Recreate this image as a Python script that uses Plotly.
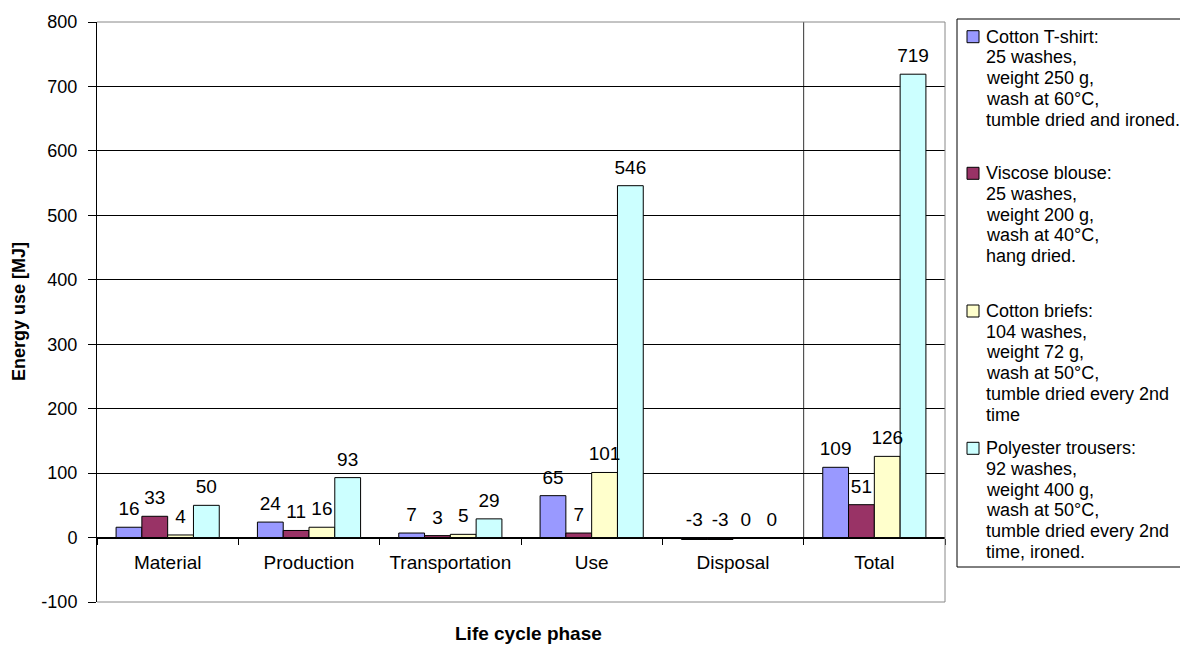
import plotly.graph_objects as go

# Life cycle energy use per garment, MJ
phases = ["Material", "Production", "Transportation", "Use", "Disposal", "Total"]

cotton_tshirt = [16, 24, 7, 65, -3, 109]
viscose_blouse = [33, 11, 3, 7, -3, 51]
cotton_briefs = [4, 16, 5, 101, 0, 126]
polyester_trousers = [50, 93, 29, 546, 0, 719]

series_values = [cotton_tshirt, viscose_blouse, cotton_briefs, polyester_trousers]
series_colors = ["#9999FF", "#993366", "#FFFFCC", "#CCFFFF"]
series_legend = [
    ["Cotton T-shirt:", "25 washes,", "weight 250 g,", "wash at 60\u00b0C,",
     "tumble dried and ironed."],
    ["Viscose blouse:", "25 washes,", "weight 200 g,", "wash at 40\u00b0C,",
     "hang dried."],
    ["Cotton briefs:", "104 washes,", "weight 72 g,", "wash at 50\u00b0C,",
     "tumble dried every 2nd", "time"],
    ["Polyester trousers:", "92 washes,", "weight 400 g,", "wash at 50\u00b0C,",
     "tumble dried every 2nd", "time, ironed."],
]

y_ticks = [-100, 0, 100, 200, 300, 400, 500, 600, 700, 800]
y_title = "Energy use [MJ]"
x_title = "Life cycle phase"

FONT = "Liberation Sans, Arial, sans-serif"
WIDTH, HEIGHT = 1180, 646
L, R, T, B = 97, 945, 22, 602  # plot area in pixels


def px_x(px):
    return (px - L) / (R - L)


def px_y(py):
    return (B - py) / (B - T)


fig = go.Figure()

for idx, (vals, color, desc) in enumerate(zip(series_values, series_colors, series_legend)):
    fig.add_trace(go.Bar(
        x=phases, y=vals, name=desc[0].rstrip(":"),
        marker=dict(color=color, line=dict(color="black", width=1)),
        offsetgroup=str(idx), showlegend=False,
    ))

# value labels above each bar (above the zero line for non-positive values)
for idx, vals in enumerate(series_values):
    fig.add_trace(go.Scatter(
        x=phases, y=[max(v, 0) for v in vals], mode="markers+text",
        text=[str(v) for v in vals], textposition="top center",
        textfont=dict(family=FONT, size=19, color="black"),
        marker=dict(size=10, color="rgba(0,0,0,0)"),
        offsetgroup=str(idx), showlegend=False, hoverinfo="skip", cliponaxis=False,
    ))

shapes = []
# plot frame (top, right, bottom)
for x0, y0, x1, y1 in [(0, 1, 1, 1), (1, 0, 1, 1), (0, 0, 1, 0)]:
    shapes.append(dict(type="line", xref="paper", yref="paper", x0=x0, y0=y0, x1=x1, y1=y1,
                       line=dict(color="#888888", width=1), layer="above"))
# divider in front of the Total group
shapes.append(dict(type="line", xref="x", yref="y", x0=4.5, x1=4.5, y0=0, y1=800,
                   line=dict(color="#333333", width=1), layer="below"))

annotations = []
# legend box
shapes.append(dict(type="rect", xref="paper", yref="paper",
                   x0=px_x(957), x1=px_x(1190), y0=px_y(567), y1=px_y(19),
                   line=dict(color="black", width=1), fillcolor="white"))
entry_top = [36.7, 173.3, 311.0, 448.3]
line_step = 20.7
for desc, color, y0 in zip(series_legend, series_colors, entry_top):
    shapes.append(dict(type="rect", xref="paper", yref="paper",
                       x0=px_x(967), x1=px_x(979), y0=px_y(y0 + 6), y1=px_y(y0 - 6),
                       line=dict(color="black", width=1), fillcolor=color))
    for k, line in enumerate(desc):
        annotations.append(dict(
            text=line, xref="paper", yref="paper", x=px_x(984), y=px_y(y0 + k * line_step),
            xanchor="left", yanchor="middle", showarrow=False,
            font=dict(family=FONT, size=18, color="black"),
        ))

annotations.append(dict(text="<b>%s</b>" % x_title, xref="paper", yref="paper",
                        x=px_x(528), y=px_y(633), xanchor="center", yanchor="middle",
                        showarrow=False, font=dict(family=FONT, size=19, color="black")))
annotations.append(dict(text="<b>%s</b>" % y_title, xref="paper", yref="paper",
                        x=px_x(19), y=px_y(312), xanchor="center", yanchor="middle",
                        textangle=-90, showarrow=False,
                        font=dict(family=FONT, size=18, color="black")))

fig.update_layout(
    width=WIDTH, height=HEIGHT,
    margin=dict(l=L, r=WIDTH - R, t=T, b=HEIGHT - B, pad=0),
    paper_bgcolor="white", plot_bgcolor="white",
    barmode="group", bargap=0.27, bargroupgap=0,
    scattermode="group", scattergap=0.27,
    font=dict(family=FONT, size=18, color="black"),
    shapes=shapes, annotations=annotations,
    showlegend=False,
)

fig.update_yaxes(
    range=[-100, 800], tickvals=y_ticks, ticktext=[str(v) for v in y_ticks],
    showgrid=True, gridcolor="black", gridwidth=1,
    zeroline=True, zerolinecolor="black", zerolinewidth=1,
    showline=True, linecolor="black", linewidth=1,
    ticks="outside", ticklen=8, tickcolor="black", ticklabelstandoff=7,
    tickfont=dict(family=FONT, size=18, color="black"),
)
fig.update_xaxes(
    type="category", categoryorder="array", categoryarray=phases,
    anchor="free", position=100 / 900,
    showline=True, linecolor="black", linewidth=1, showgrid=False,
    ticks="outside", tickson="boundaries", ticklen=6, tickcolor="black",
    ticklabelstandoff=8,
    tickfont=dict(family=FONT, size=19, color="black"),
)

fig.write_html("out.html")
